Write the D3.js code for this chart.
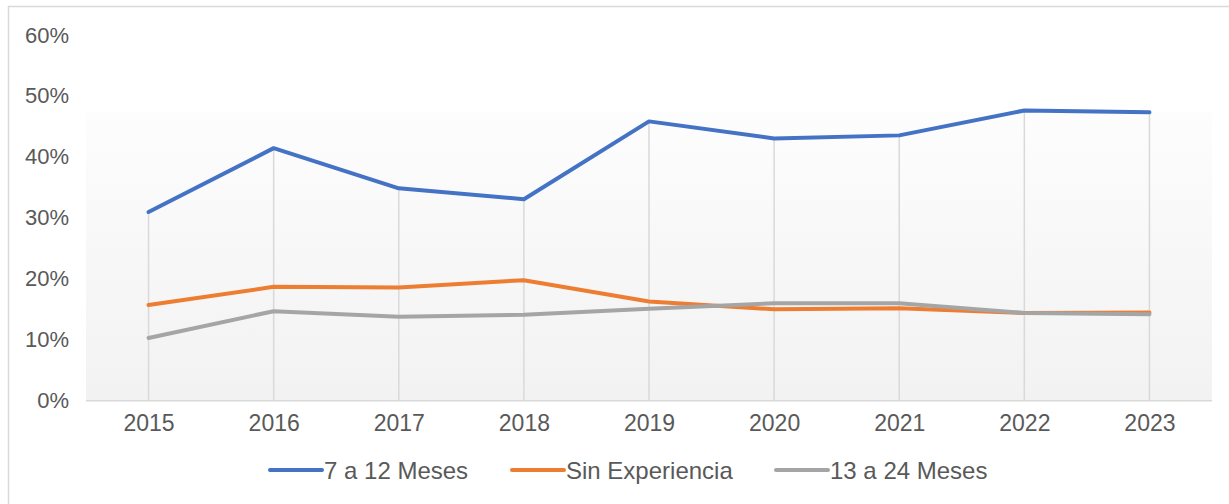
<!DOCTYPE html>
<html>
<head>
<meta charset="utf-8">
<script src="https://cdn.jsdelivr.net/npm/d3@7"></script>
<style>
  body { margin: 0; background: #fff; }
  text { font-family: "Liberation Sans", Arial, sans-serif; fill: #595959; }
</style>
</head>
<body>
<div id="chart"></div>
<script>
// data
var years = ["2015", "2016", "2017", "2018", "2019", "2020", "2021", "2022", "2023"];
var meses7a12 = [0.309, 0.414, 0.348, 0.330, 0.458, 0.430, 0.435, 0.476, 0.473];
var sinExperiencia = [0.156, 0.186, 0.185, 0.197, 0.162, 0.149, 0.151, 0.143, 0.144];
var meses13a24 = [0.102, 0.146, 0.137, 0.140, 0.150, 0.159, 0.159, 0.143, 0.141];
var yTicks = [0, 0.1, 0.2, 0.3, 0.4, 0.5, 0.6];

var series = [
    {name: "7 a 12 Meses", values: meses7a12, color: "#4472C4"},
    {name: "Sin Experiencia", values: sinExperiencia, color: "#ED7D31"},
    {name: "13 a 24 Meses", values: meses13a24, color: "#A5A5A5"}
];

var width = 1229, height = 504;
var plot = {left: 86, right: 1212, top: 35, bottom: 400};

var svg = d3.select("#chart").append("svg")
    .attr("width", width)
    .attr("height", height);

// outer frame
svg.append("rect")
    .attr("x", 8.5).attr("y", 6.5)
    .attr("width", 1240).attr("height", 520)
    .attr("fill", "none")
    .attr("stroke", "#d9d9d9")
    .attr("stroke-width", 1.5);

var x = d3.scalePoint()
    .domain(years)
    .range([plot.left, plot.right])
    .padding(0.5);

var y = d3.scaleLinear()
    .domain([0, 0.6])
    .range([plot.bottom, plot.top]);

// plot area background, light gradient
var grad = svg.append("defs").append("linearGradient")
    .attr("id", "bg")
    .attr("x1", 0).attr("y1", 0).attr("x2", 0).attr("y2", 1);
grad.append("stop").attr("offset", "0%").attr("stop-color", "#fdfdfd");
grad.append("stop").attr("offset", "100%").attr("stop-color", "#f2f2f2");

svg.append("rect")
    .attr("x", plot.left).attr("y", 112)
    .attr("width", plot.right - plot.left)
    .attr("height", plot.bottom - 112)
    .attr("fill", "url(#bg)");

// drop lines from the top point of each year
svg.append("g")
    .selectAll("line")
    .data(years)
    .enter()
    .append("line")
        .attr("x1", function(d) { return x(d); })
        .attr("x2", function(d) { return x(d); })
        .attr("y1", function(d, i) { return y(d3.max(series, function(s) { return s.values[i]; })); })
        .attr("y2", plot.bottom)
        .attr("stroke", "#d9d9d9")
        .attr("stroke-width", 1.5);

// x axis
var xAxis = svg.append("g")
    .attr("transform", "translate(0," + (plot.bottom + 0.75) + ")")
    .call(d3.axisBottom(x).tickSize(0).tickPadding(14));
xAxis.select(".domain")
    .attr("d", "M" + plot.left + ",0H" + plot.right)
    .attr("stroke", "#d9d9d9")
    .attr("stroke-width", 1.5);
xAxis.selectAll("text")
    .attr("font-size", "23px")
    .attr("font-family", "Liberation Sans, Arial, sans-serif")
    .attr("fill", "#595959");

// y axis (labels only)
var yAxis = svg.append("g")
    .attr("transform", "translate(69,0)")
    .call(d3.axisLeft(y).tickValues(yTicks).tickSize(0).tickPadding(0).tickFormat(d3.format(".0%")));
yAxis.select(".domain").remove();
yAxis.selectAll("text")
    .attr("font-size", "22px")
    .attr("font-family", "Liberation Sans, Arial, sans-serif")
    .attr("fill", "#595959");

// series lines
var line = d3.line()
    .x(function(d, i) { return x(years[i]); })
    .y(function(d) { return y(d); });

svg.append("g")
    .selectAll("path")
    .data(series)
    .enter()
    .append("path")
        .attr("d", function(d) { return line(d.values); })
        .attr("fill", "none")
        .attr("stroke", function(d) { return d.color; })
        .attr("stroke-width", 4)
        .attr("stroke-linejoin", "round")
        .attr("stroke-linecap", "round");

// legend
var legendX = [270, 512, 776];
var legend = svg.append("g")
    .selectAll("g")
    .data(series)
    .enter()
    .append("g")
        .attr("transform", function(d, i) { return "translate(" + legendX[i] + ",470)"; });

legend.append("line")
    .attr("x1", 0).attr("x2", 52)
    .attr("stroke", function(d) { return d.color; })
    .attr("stroke-width", 4)
    .attr("stroke-linecap", "round");

legend.append("text")
    .attr("x", 54)
    .attr("y", 8.5)
    .attr("font-size", "24px")
    .text(function(d) { return d.name; });
</script>
</body>
</html>
